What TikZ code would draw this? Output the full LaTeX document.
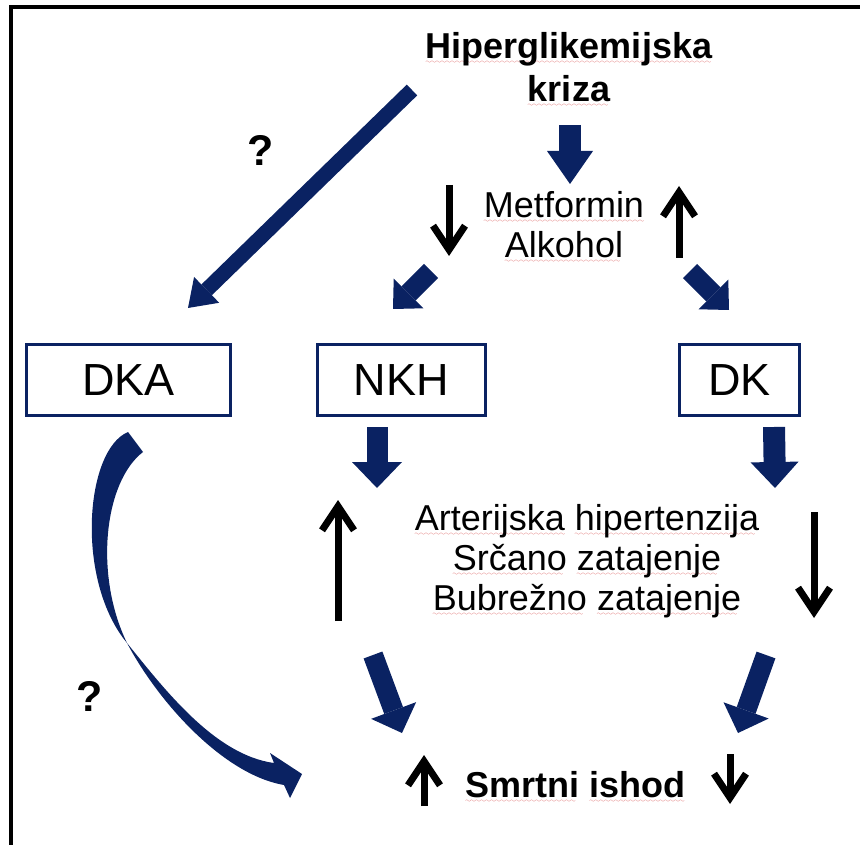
\documentclass[tikz,border=0pt]{standalone}
\usepackage{fontspec}
\setmainfont{Liberation Sans}
\usetikzlibrary{arrows.meta}
\definecolor{navy}{RGB}{10,34,98}
\definecolor{wavered}{RGB}{215,80,80}
\font\wavefnt=lasy6 \relax
\newcommand\sq[1]{\setbox0=\hbox{#1}\rlap{\raisebox{-5pt}[0pt][0pt]{\color{wavered}\leaders\hbox{\wavefnt\char58}\hskip\wd0}}\box0\relax}
\tikzset{
  lbl/.style={inner sep=0pt, align=center, font=\fontsize{36}{40}\selectfont},
  boldlbl/.style={inner sep=0pt, align=center, font=\bfseries\fontsize{36}{43}\selectfont},
  qmark/.style={inner sep=0pt, font=\bfseries\fontsize{43}{47}\selectfont},
  box/.style={draw=navy, line width=3pt, fill=white, inner sep=0pt, minimum height=71pt, font=\fontsize{45}{50}\selectfont},
  bluearrow/.style n args={3}{draw=navy, line width=#1, -{Triangle[width=#2,length=#3,line width=0pt]}},
  blackarrow/.style={draw=black, line width=7pt, -{Straight Barb[length=24pt,width=32pt,line join=miter,line cap=butt]}},
}
\begin{document}
\begin{tikzpicture}[x=1pt,y=-1pt]
\useasboundingbox (0,0) rectangle (860,845);
% frame
\fill[black] (9,5) rectangle (860,9);
\fill[black] (9,5) rectangle (13,845);

% texts
\node[boldlbl, anchor=north] (title) at (569,32) {\sq{Hiperglikemijska}\\\sq{kriza}};
\node[lbl, anchor=north] (drugs) at (564,191) {\sq{Metformin}\\\sq{Alkohol}};
\node[box, minimum width=204pt] (dka) at (128.5,380) {DKA};
\node[box, minimum width=168pt] (nkh) at (401.5,380) {NKH};
\node[box, minimum width=120pt] (dk) at (739.5,380) {DK};
\node[lbl, anchor=north] (comorb) at (587,504) {\sq{Arterijska} \sq{hipertenzija}\\\sq{Srčano} \sq{zatajenje}\\\sq{Bubrežno} \sq{zatajenje}};
\node[boldlbl, anchor=base] (death) at (575.5,797) {\sq{Smrtni} \sq{ishod}};
\node[qmark] (q1) at (261,150) {?};
\node[qmark] (q2) at (90,696) {?};

% arrow end points
\coordinate (d1) at (412,90);   \coordinate (d2) at (188,308);
\coordinate (m1) at (570,125);  \coordinate (m2) at (570,184);
\coordinate (l1) at (431,271);  \coordinate (l2) at (393,309);
\coordinate (r1) at (690,271);  \coordinate (r2) at (729,310);
\coordinate (n1) at (377,427);  \coordinate (n2) at (377,488);
\coordinate (k1) at (774,427);  \coordinate (k2) at (775,488);
\coordinate (ln1) at (373,655); \coordinate (ln2) at (402,733);
\coordinate (rk1) at (766,655); \coordinate (rk2) at (738,733);

% blue block arrows
\draw[bluearrow={15pt}{36pt}{26pt}] (d1) -- (d2);
\draw[bluearrow={22pt}{46pt}{33pt}] (m1) -- (m2);
\draw[bluearrow={20pt}{42pt}{22pt}] (l1) -- (l2);
\draw[bluearrow={20pt}{42pt}{22pt}] (r1) -- (r2);
\draw[bluearrow={21pt}{50pt}{26pt}] (n1) -- (n2);
\draw[bluearrow={22pt}{48pt}{26pt}] (k1) -- (k2);
\draw[bluearrow={20pt}{48pt}{24pt}] (ln1) -- (ln2);
\draw[bluearrow={20pt}{48pt}{24pt}] (rk1) -- (rk2);

% black arrows
\coordinate (a1) at (449,185); \coordinate (a2) at (449,256);
\coordinate (b1) at (679,258); \coordinate (b2) at (679,186);
\coordinate (c1) at (338,621); \coordinate (c2) at (338,500);
\coordinate (e1) at (814,512); \coordinate (e2) at (814,618);
\coordinate (f1) at (424,806); \coordinate (f2) at (424,755);
\coordinate (g1) at (730,754); \coordinate (g2) at (730,804);
\draw[blackarrow] (a1) -- (a2);
\draw[blackarrow] (b1) -- (b2);
\draw[blackarrow] (c1) -- (c2);
\draw[blackarrow] (e1) -- (e2);
\draw[blackarrow] (f1) -- (f2);
\draw[blackarrow] (g1) -- (g2);

% curved arrow DKA -> death
\fill[navy] (128,432) .. controls (85,450) and (75,580) .. (127,643)
  .. controls (160,705) and (225,775) .. (284,785)
  -- (290,798) -- (302,774) -- (270,753) -- (274,763)
  .. controls (215,755) and (165,690) .. (127,643)
  .. controls (94,575) and (104,482) .. (143,452) -- cycle;
\end{tikzpicture}
\end{document}
